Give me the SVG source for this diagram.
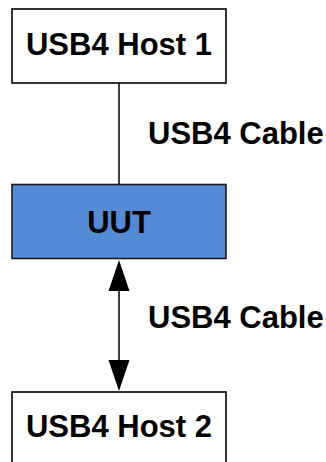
<svg xmlns="http://www.w3.org/2000/svg" width="326" height="462" viewBox="0 0 326 462">
<style>
.box{fill:#ffffff;stroke:#000000;stroke-width:1.6}
.uut{fill:#558AD5;stroke:#1a1a1a;stroke-width:1.6}
.lbl{font-family:"Liberation Sans",Arial,sans-serif;font-weight:bold;font-size:31px;fill:#000000}
.c{text-anchor:middle}
.wire{stroke:#000000;stroke-width:1.5;fill:none}
.head{fill:#000000}
</style>
<rect width="326" height="462" fill="#ffffff"/>
<g id="connectors">
<line class="wire" x1="119" y1="83" x2="119" y2="184"/>
<line class="wire" x1="119" y1="290" x2="119" y2="361"/>
<polygon class="head" points="119,260 129.5,291 108.5,291"/>
<polygon class="head" points="119,391 129.5,360 108.5,360"/>
<text class="lbl" x="148" y="144">USB4 Cable</text>
<text class="lbl" x="148" y="328">USB4 Cable</text>
</g>
<g id="host1">
<rect class="box" x="12" y="9" width="214" height="74"/>
<text class="lbl c" x="119" y="54.5">USB4 Host 1</text>
</g>
<g id="uut">
<rect class="uut" x="12" y="184.5" width="214" height="74"/>
<text class="lbl c" x="119" y="232.5">UUT</text>
</g>
<g id="host2">
<rect class="box" x="12" y="392" width="214" height="74"/>
<text class="lbl c" x="119" y="437">USB4 Host 2</text>
</g>
</svg>
